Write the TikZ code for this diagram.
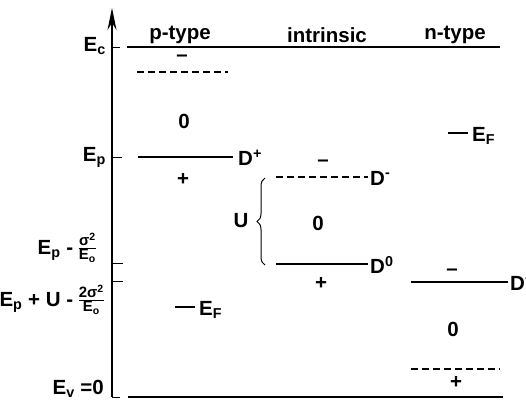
\documentclass[tikz,border=0pt]{standalone}
\usepackage{fontspec}
\setmainfont{Liberation Sans}
\usetikzlibrary{decorations.pathreplacing,arrows.meta}
\newcommand{\fr}[2]{$\vcenter{\hbox{\fontsize{15}{16}\selectfont\bfseries\begin{tabular}{@{}c@{}}#1\\[-3pt]\hline\rule{0pt}{12pt}#2\end{tabular}}}$}
\begin{document}
\begin{tikzpicture}[x=1pt,y=-1pt,
  lvl/.style={line width=1.2pt},
  dlvl/.style={line width=1.2pt,dash pattern=on 7pt off 4pt},
  txt/.style={font=\fontsize{20.5}{24}\selectfont\bfseries,inner sep=0pt}]
\useasboundingbox (0,0) rectangle (526,402);
% axis
\coordinate (ax0) at (112,397);
\coordinate (ax1) at (112,8);
\draw[line width=1.6pt,-{Stealth[length=22pt,width=9pt]}] (ax0) -- (ax1);
% ticks
\coordinate (tc0) at (112,47); \coordinate (tc1) at (120,47);
\coordinate (tp0) at (112,157); \coordinate (tp1) at (122,157);
\coordinate (ts0) at (112,263); \coordinate (ts1) at (123,263);
\coordinate (tu0) at (112,281); \coordinate (tu1) at (123,281);
\coordinate (tv0) at (112,397); \coordinate (tv1) at (120,397);
\foreach \a/\b in {tc0/tc1,tp0/tp1,ts0/ts1,tu0/tu1,tv0/tv1} \draw[line width=1pt] (\a) -- (\b);
% Ec and Ev
\coordinate (ec0) at (127,47); \coordinate (ec1) at (500,47);
\draw[lvl] (ec0) -- (ec1);
\coordinate (ev0) at (128,397); \coordinate (ev1) at (503,397);
\draw[lvl] (ev0) -- (ev1);
% axis labels
\node[txt,anchor=east] (Ec) at (106,46) {E\textsubscript{c}};
\node[txt,anchor=east] (Ep) at (106,157) {E\textsubscript{p}};
\node[txt,anchor=east] (Es) at (96,249) {E\textsubscript{p} - \fr{σ\textsuperscript{2}}{E\textsubscript{o}}};
\node[txt,anchor=east] (Eu) at (104,301) {E\textsubscript{p} + U - \fr{2σ\textsuperscript{2}}{E\textsubscript{o}}};
\node[txt,anchor=east] (Ev) at (104,389) {E\textsubscript{v} =0};
% headers
\node[txt] (hp) at (180,35) {p-type};
\node[txt] (hi) at (327,35) {intrinsic};
\node[txt] (hn) at (455,35) {n-type};
% p-type
\coordinate (pd0) at (137,72); \coordinate (pd1) at (228,72);
\draw[dlvl] (pd0) -- (pd1);
\node[txt] (pm) at (182,58) {–};
\node[txt] (p0) at (184,121) {0};
\coordinate (ps0) at (138,157);
\node[txt,anchor=west] (Dp) at (238,158) {D\textsuperscript{+}};
\draw[lvl] (ps0) -- ([xshift=-5pt]Dp.west |- ps0);
\node[txt] (pp) at (183,179) {+};
\coordinate (pf0) at (175,307);
\node[txt,anchor=west] (pEF) at (199,310) {E\textsubscript{F}};
\draw[lvl] (pf0) -- ([xshift=-4pt]pEF.west |- pf0);
% intrinsic
\coordinate (id0) at (276,177);
\node[txt,anchor=west] (Dm) at (370,178) {D\textsuperscript{-}};
\draw[dlvl] (id0) -- ([xshift=-2pt]Dm.west |- id0);
\node[txt] (im) at (323,163) {–};
\node[txt] (U) at (241,221) {U};
\coordinate (b0) at (265,265); \coordinate (b1) at (265,178);
\draw[line width=1pt,decorate,decoration={brace,amplitude=8pt}] (b0) -- (b1);
\node[txt] (i0) at (318,223) {0};
\coordinate (iz0) at (276,264);
\node[txt,anchor=west] (D0) at (370,265) {D\textsuperscript{0}};
\draw[lvl] (iz0) -- ([xshift=-2pt]D0.west |- iz0);
\node[txt] (ip) at (321,283) {+};
% n-type
\coordinate (nf0) at (448,133);
\node[txt,anchor=west] (nEF) at (472,136) {E\textsubscript{F}};
\draw[lvl] (nf0) -- ([xshift=-4pt]nEF.west |- nf0);
\node[txt] (nm) at (452,272) {–};
\coordinate (nl0) at (411,282);
\node[txt,anchor=west] (nD) at (510,283) {D\textsuperscript{-}};
\draw[lvl] (nl0) -- ([xshift=-2pt]nD.west |- nl0);
\node[txt] (n0) at (453,329) {0};
\coordinate (nd0) at (411,369); \coordinate (nd1) at (500,369);
\draw[dlvl] (nd0) -- (nd1);
\node[txt] (np) at (456,382) {+};
\end{tikzpicture}
\end{document}
